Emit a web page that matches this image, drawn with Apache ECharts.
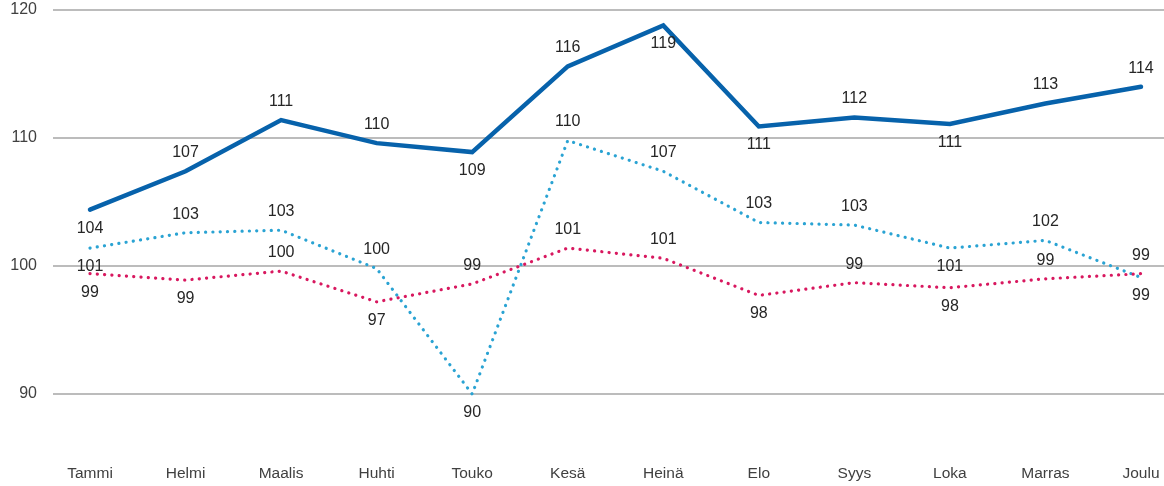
<!DOCTYPE html>
<html>
<head>
<meta charset="utf-8">
<script src="https://cdn.jsdelivr.net/npm/echarts@6/dist/echarts.min.js"></script>
<style>html,body{margin:0;padding:0;background:#fff}#c{width:1164px;height:486px}</style>
</head>
<body>
<div id="c"></div>
<script>
const months = ['Tammi','Helmi','Maalis','Huhti','Touko','Kesä','Heinä','Elo','Syys','Loka','Marras','Joulu'];
const yTicks = [90, 100, 110, 120];
const darkBlue = [104.4, 107.4, 111.4, 109.6, 108.9, 115.6, 118.8, 110.9, 111.6, 111.1, 112.7, 114.0];
const lightBlue = [101.4, 102.6, 102.8, 99.8, 90.0, 109.8, 107.4, 103.4, 103.2, 101.4, 102.0, 99.1];
const pink = [99.4, 98.9, 99.6, 97.2, 98.6, 101.4, 100.6, 97.7, 98.7, 98.3, 99.0, 99.4];
const darkPos = ['bottom','top','top','top','bottom','top','bottom','bottom','top','bottom','top','top'];
const lightPos = ['bottom','top','top','top','bottom','top','top','top','top','bottom','top','bottom'];
const pinkPos = ['bottom','bottom','top','bottom','top','top','top','bottom','top','bottom','top','top'];

const chart = echarts.init(document.getElementById('c'), null, {renderer:'canvas'});
const font = 'Liberation Sans, Arial, sans-serif';
function mk(vals, pos){
  return vals.map((v,i)=>({value:v, label:{position:pos[i]}}));
}
const lbl = {show:true, distance:10, color:'#262626', fontSize:16, fontFamily:font,
  formatter:p=>String(Math.round(p.value))};
const sym = {showSymbol:true, symbol:'circle', symbolSize:1, itemStyle:{color:'rgba(0,0,0,0)'}, clip:false};
chart.setOption({
  animation:false,
  grid:[
    {left:90, right:23, top:10, bottom:92},
    {left:53, right:0, top:10, bottom:92}
  ],
  xAxis:[
    {gridIndex:0, type:'category', data:months, boundaryGap:false,
     axisLine:{show:false}, axisTick:{show:false},
     axisLabel:{margin:72, color:'#404040', fontSize:15.5, fontFamily:font, interval:0}},
    {gridIndex:1, type:'value', show:false}
  ],
  yAxis:[
    {gridIndex:0, type:'value', min:yTicks[0], max:yTicks[yTicks.length-1], interval:10,
     axisLabel:{show:false}, splitLine:{show:false}, axisLine:{show:false}, axisTick:{show:false}},
    {gridIndex:1, type:'value', min:yTicks[0], max:yTicks[yTicks.length-1], interval:10,
     axisLine:{show:false}, axisTick:{show:false},
     axisLabel:{margin:16, color:'#404040', fontSize:16, fontFamily:font},
     splitLine:{show:true, lineStyle:{color:'#a6a6a6', width:1.5}}}
  ],
  series:[
    Object.assign({type:'line', xAxisIndex:0, yAxisIndex:0, data:mk(lightBlue, lightPos),
     lineStyle:{color:'#2aa3d3', width:3.2, type:[0.1,7.2], cap:'round'}, label:lbl, z:3}, sym),
    Object.assign({type:'line', xAxisIndex:0, yAxisIndex:0, data:mk(pink, pinkPos),
     lineStyle:{color:'#d8185f', width:3.2, type:[0.1,7.2], cap:'round'}, label:lbl, z:4}, sym),
    Object.assign({type:'line', xAxisIndex:0, yAxisIndex:0, data:mk(darkBlue, darkPos),
     lineStyle:{color:'#0762ab', width:4.5, cap:'round', join:'miter'}, label:lbl, z:5}, sym)
  ]
});
</script>
</body>
</html>
